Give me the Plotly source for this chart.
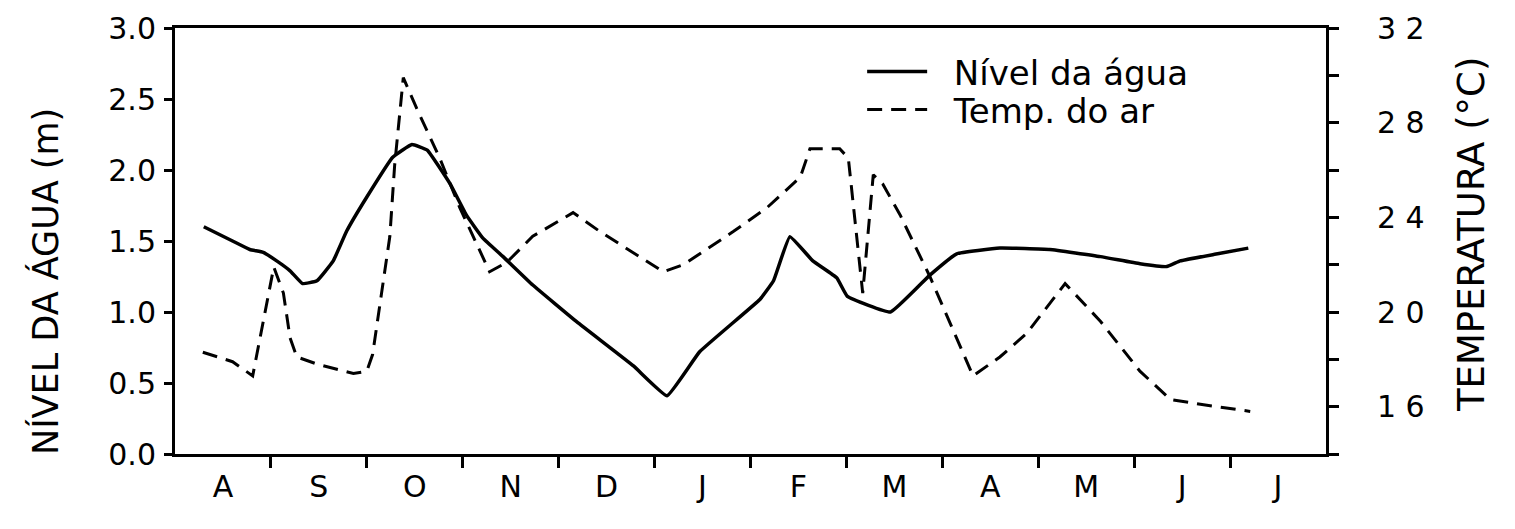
import plotly.graph_objects as go

# Month axis (Aug .. Jul), x in month units from start of August
months = ["A", "S", "O", "N", "D", "J", "F", "M", "A", "M", "J", "J"]
month_centers = [i + 0.5 for i in range(12)]
month_bounds = list(range(1, 12))

# Water level (m)
level_x = [0.30, 0.60, 0.78, 0.92, 1.06, 1.20, 1.33, 1.48, 1.65, 1.79, 2.00, 2.27,
           2.47, 2.63, 2.87, 3.04, 3.21, 3.42, 3.73, 4.19, 4.78, 5.13, 5.47, 6.10,
           6.24, 6.41, 6.65, 6.90, 7.01, 7.46, 7.87, 8.15, 8.60, 9.12, 9.65, 10.06,
           10.34, 10.48, 10.87, 11.19]
level_y = [1.60, 1.50, 1.44, 1.42, 1.36, 1.29, 1.20, 1.22, 1.36, 1.57, 1.81, 2.09,
           2.18, 2.14, 1.90, 1.68, 1.52, 1.39, 1.19, 0.93, 0.62, 0.41, 0.72, 1.09,
           1.22, 1.53, 1.36, 1.24, 1.11, 1.00, 1.26, 1.41, 1.45, 1.44, 1.39, 1.34,
           1.32, 1.36, 1.41, 1.45]

# Air temperature (°C)
temp_x = [0.29, 0.60, 0.81, 0.92, 1.03, 1.13, 1.20, 1.27, 1.48, 1.86, 2.00, 2.06,
          2.24, 2.29, 2.38, 2.52, 2.76, 2.97, 3.11, 3.28, 3.46, 3.73, 4.15, 4.43,
          5.09, 5.30, 5.82, 6.17, 6.52, 6.62, 6.93, 7.02, 7.17, 7.28, 7.38, 7.56,
          7.87, 8.32, 8.60, 8.88, 9.28, 9.65, 10.06, 10.38, 10.69, 11.21]
temp_y = [18.3, 17.9, 17.3, 19.6, 21.9, 20.8, 18.9, 18.1, 17.8, 17.4, 17.5, 18.2,
          23.2, 26.2, 29.9, 28.6, 26.5, 24.4, 23.2, 21.7, 22.1, 23.2, 24.2, 23.4,
          21.7, 22.0, 23.4, 24.4, 25.7, 26.9, 26.9, 26.5, 20.8, 25.8, 25.4, 24.1,
          21.5, 17.3, 18.1, 19.1, 21.2, 19.6, 17.5, 16.3, 16.1, 15.8]

left_ticks = [0.0, 0.5, 1.0, 1.5, 2.0, 2.5, 3.0]
right_ticks = [14, 16, 18, 20, 22, 24, 26, 28, 30, 32]
right_text = ["", "1 6", "", "2 0", "", "2 4", "", "2 8", "", "3 2"]

FONT = "DejaVu Sans"
NB = "\u00a0\u00a0"

fig = go.Figure()
fig.add_trace(go.Scatter(x=level_x, y=level_y, mode="lines", name=NB + "Nível da água",
                         line=dict(color="black", width=3.5, shape="spline", smoothing=0.3),
                         yaxis="y", legend="legend"))
fig.add_trace(go.Scatter(x=temp_x, y=temp_y, mode="lines", name=NB + "Temp. do ar",
                         line=dict(color="black", width=3, dash="15px,9px"),
                         yaxis="y2", legend="legend2"))

leg_common = dict(xanchor="left", yanchor="middle", bgcolor="rgba(0,0,0,0)",
                  font=dict(size=34, family=FONT), itemwidth=60)

fig.update_layout(
    width=1507, height=521,
    margin=dict(l=167, r=189, t=20, b=75, autoexpand=False),
    plot_bgcolor="white", paper_bgcolor="white",
    font=dict(family=FONT, color="black"),
    showlegend=True,
    legend=dict(x=0.597, y=0.897, **leg_common),
    legend2=dict(x=0.597, y=0.808, **leg_common),
    xaxis=dict(range=[0, 12], tickvals=month_centers, ticktext=months,
               ticks="", showgrid=False, zeroline=False, automargin=False,
               showline=True, linecolor="black", linewidth=3, mirror=True,
               tickfont=dict(size=30, family=FONT),
               ticklabelstandoff=4,
               minor=dict(tickvals=month_bounds, ticks="outside", ticklen=11,
                          tickwidth=3, tickcolor="black", showgrid=False)),
    yaxis=dict(range=[0, 3], tickvals=left_ticks, tickformat=".1f",
               ticks="outside", ticklen=8, tickwidth=3, tickcolor="black",
               showgrid=False, zeroline=False, automargin=False,
               showline=True, linecolor="black", linewidth=3, mirror=True,
               tickfont=dict(size=30, family=FONT), ticklabelstandoff=2),
    yaxis2=dict(range=[14, 32], overlaying="y", side="right",
                tickvals=right_ticks, ticktext=right_text,
                ticks="outside", ticklen=10, tickwidth=3, tickcolor="black",
                showgrid=False, zeroline=False, automargin=False,
                showline=True, linecolor="black", linewidth=3,
                tickfont=dict(size=30, family=FONT), ticklabelstandoff=32),
    annotations=[
        dict(text="NÍVEL DA ÁGUA (m)", xref="paper", yref="paper", x=0, y=0.404,
             xshift=-129, textangle=-90, showarrow=False,
             font=dict(size=35, family=FONT), xanchor="center", yanchor="middle"),
        dict(text="TEMPERATURA (°C)", xref="paper", yref="paper", x=1, y=0.514,
             xshift=145, textangle=-90, showarrow=False,
             font=dict(size=37, family=FONT), xanchor="center", yanchor="middle"),
    ],
)

fig.write_html("out.html")
